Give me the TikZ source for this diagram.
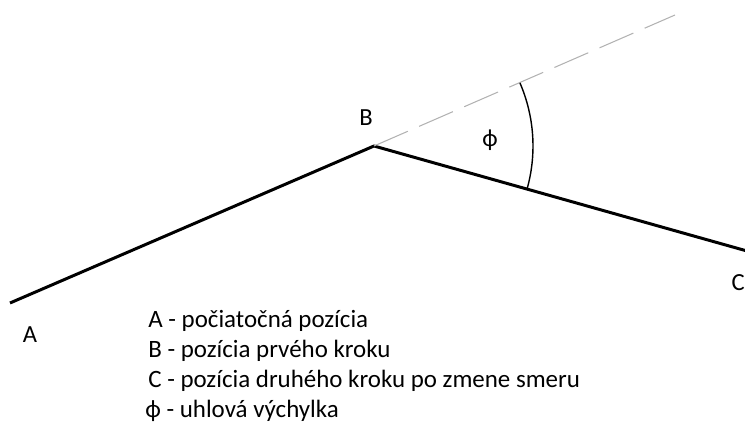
\documentclass[tikz,border=0pt]{standalone}
\usepackage{fontspec}
\setmainfont{Carlito}
\usepackage{tikz}
\usetikzlibrary{calc}

\begin{document}
\begin{tikzpicture}[x=0.02cm, y=-0.02cm,
  step line/.style={line width=1.7pt, black},
  guide/.style={gray!60, line width=0.6pt, dash pattern=on 21pt off 7pt},
  angmark/.style={line width=0.8pt, black},
  pt/.style={font=\fontsize{14}{16}\selectfont, inner sep=0pt},
  leg/.style={font=\fontsize{14.2}{16}\selectfont, anchor=west, inner sep=0pt},
]
\useasboundingbox (0,0) rectangle (745,442);
\coordinate (A) at (10,303);
\coordinate (B) at (374,146);
\coordinate (C) at (747,251);
\coordinate (D) at (675,15);
\draw[step line, line join=round] (A) -- (B) -- (C);
\draw[guide] (B) -- (D);
\draw[angmark] ($(B)+(23.4:159 and -159)$) arc[start angle=23.4, end angle=-15.6, x radius=159, y radius=-159];
\node[pt] (lA) at (30,335) {A};
\node[pt] (lB) at (366,118) {B};
\node[pt, anchor=east] (lC) at (745,283) {C};
\node[pt] (lphi) at (490,140) {ф};
\node[leg] (l1) at (148,321) {A - počiatočná pozícia};
\node[leg] (l2) at (148,351) {B - pozícia prvého kroku};
\node[leg] (l3) at (148,381) {C - pozícia druhého kroku po zmene smeru};
\node[leg] (l4) at (145,411) {ф - uhlová výchylka};
\end{tikzpicture}
\end{document}
